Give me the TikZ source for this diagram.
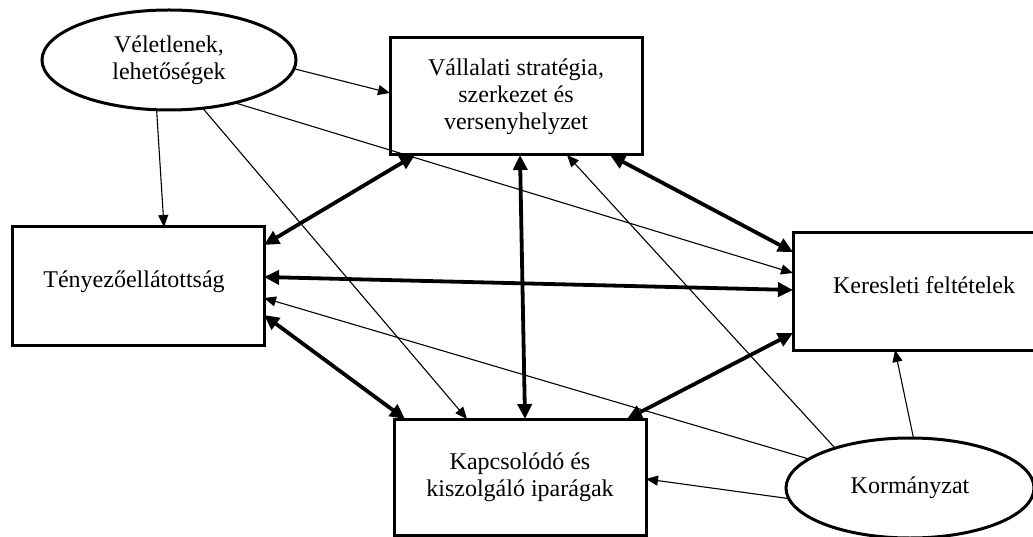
\documentclass[tikz,border=0pt]{standalone}
\usepackage{fontspec}
\setmainfont{Liberation Serif}
\usetikzlibrary{shapes.geometric,arrows.meta,calc}
\tikzset{
  txt/.style={align=center, font=\fontsize{24}{27}\selectfont},
  boxnode/.style={txt, draw, line width=3pt, rectangle, inner sep=0pt, outer sep=0pt},
  ovalnode/.style={txt, draw, line width=3pt, ellipse, inner sep=0pt, outer sep=0pt},
  thinarrow/.style={-{Triangle[length=12pt,width=10pt]}, line width=1.1pt},
  thickarrow/.style={{Triangle[length=15pt,width=14pt]}-{Triangle[length=15pt,width=14pt]}, line width=3.8pt}
}
\begin{document}
\begin{tikzpicture}[x=1pt,y=-1pt]
\useasboundingbox (0,0) rectangle (1033,537);
\fill[white] (0,0) rectangle (1033,537);

% nodes
\node[ovalnode, minimum width=254pt, minimum height=100pt] (vel) at (169,60) {V\'eletlenek,\\lehet\H{o}s\'egek};
\node[boxnode, minimum width=252pt, minimum height=117pt] (val) at (516,96.5) {V\'allalati strat\'egia,\\szerkezet \'es\\versenyhelyzet};
\node[boxnode, minimum width=252pt, minimum height=118pt] (teny) at (138,286) {};
\node[txt] (tenyt) at (134,282) {T\'enyez\H{o}ell\'atotts\'ag};
\node[boxnode, minimum width=243pt, minimum height=117pt] (ker) at (914.5,291.5) {};
\node[txt] (kert) at (924,285) {Keresleti felt\'etelek};
\node[boxnode, minimum width=252pt, minimum height=116pt] (kap) at (520,477) {Kapcsol\'od\'o \'es\\kiszolg\'al\'o ipar\'agak};
\node[ovalnode, minimum width=248pt, minimum height=100pt] (kor) at (910,488) {Korm\'anyzat};

% thin arrows
\draw[thinarrow] (vel.-4) -- ($(val.west)+(0,-3.5)$);
\draw[thinarrow] (vel.256) -- ($(teny.north)+(26,0)$);
\draw[thinarrow] (vel.-55) -- ($(kap.north)+(-53,0)$);
\draw[thinarrow] (vel.-33) -- ($(ker.west)+(0,-18.5)$);
\draw[thinarrow] (kor.164) -- ($(teny.east)+(0,12)$);
\draw[thinarrow] (kor.152) -- ($(val.south)+(51,0)$);
\draw[thinarrow] (kor.185) -- ($(kap.east)+(0,2)$);
\draw[thinarrow] (kor.86) -- ($(ker.south)+(-19.5,0)$);

% thick double arrows
\draw[thickarrow] ($(val.south west)+(25,0)$) -- ($(teny.north east)+(0,18)$);
\draw[thickarrow] ($(val.south east)+(-32,0)$) -- ($(ker.north west)+(0,19)$);
\draw[thickarrow] ($(val.south)+(4,0)$) -- ($(kap.north)+(5,0)$);
\draw[thickarrow] ($(teny.east)+(0,-9)$) -- ($(ker.west)+(0,-1.5)$);
\draw[thickarrow] ($(teny.east)+(0,29)$) -- ($(kap.north west)+(11,0)$);
\draw[thickarrow] ($(ker.south west)+(0,-17)$) -- ($(kap.north east)+(-19,0)$);
\end{tikzpicture}
\end{document}
